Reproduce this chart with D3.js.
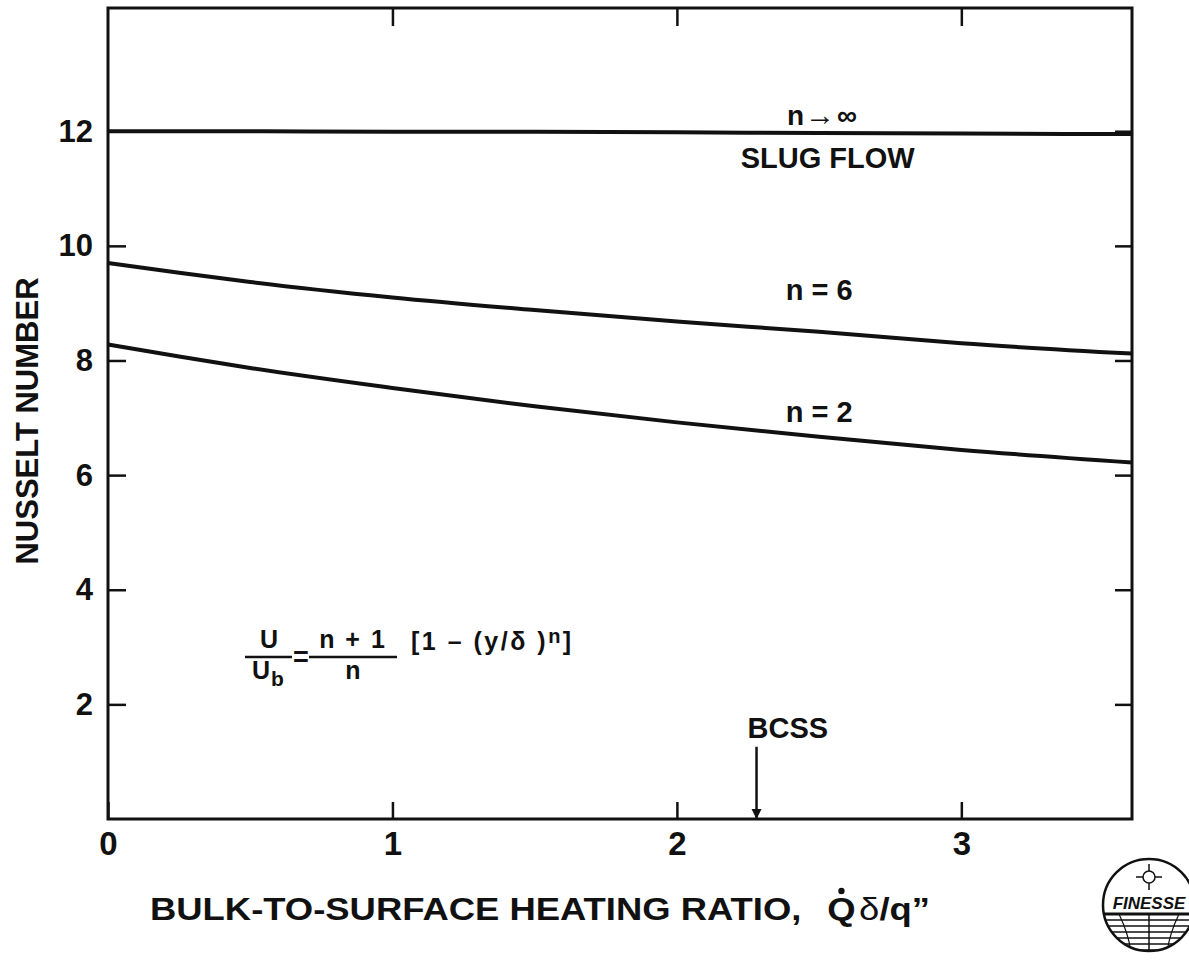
<!DOCTYPE html>
<html>
<head>
<meta charset="utf-8">
<script src="https://cdnjs.cloudflare.com/ajax/libs/d3/7.8.5/d3.min.js"></script>
<style>
body { margin: 0; background: #fff; }
svg text { font-family: "Liberation Sans", Arial, sans-serif; font-weight: bold; fill: #111; }
</style>
</head>
<body>
<div id="chart"></div>
<script>
"use strict";

// values
var ratio    = [0, 0.25, 0.5, 1, 1.5, 2, 2.5, 3, 3.6];
var nu_slug  = [12.0, 12.0, 12.0, 11.99, 11.99, 11.98, 11.97, 11.96, 11.95];
var nu_n6    = [9.7, 9.53, 9.37, 9.1, 8.88, 8.68, 8.5, 8.3, 8.12];
var nu_n2    = [8.28, 8.07, 7.87, 7.52, 7.2, 6.92, 6.67, 6.44, 6.22];

var x_ticks = [0, 1, 2, 3];
var y_ticks = [2, 4, 6, 8, 10, 12];

// text notes inside the plot, in data units
var note_text = ["SLUG FLOW", "n = 6", "n = 2", "BCSS"];
var note_x    = [2.53, 2.5, 2.5, 2.39];
var note_y    = [11.36, 9.06, 6.93, 1.41];

var bcss = 2.28;


function drawChart() {

	var svg = d3.select("#chart").append("svg")
		.attr("width", 1189).attr("height", 960);

	var x = d3.scaleLinear().domain([0, 3.6]).range([108, 1132]),
		y = d3.scaleLinear().domain([0, 14.15]).range([819, 8]);

	// frame
	svg.append("rect")
		.attr("x", x(0)).attr("y", y(14.15))
		.attr("width", x(3.6) - x(0)).attr("height", y(0) - y(14.15))
		.attr("fill", "none").attr("stroke", "#111").attr("stroke-width", 3);

	// ticks point inwards on all four sides, labels only left and bottom
	var fmt = d3.format("d");
	var gl = svg.append("g").attr("transform", "translate(" + x(0) + ",0)")
		.call(d3.axisLeft(y).tickValues(y_ticks).tickFormat(fmt).tickSizeInner(-18).tickSizeOuter(0).tickPadding(15));
	var gr = svg.append("g").attr("transform", "translate(" + x(3.6) + ",0)")
		.call(d3.axisRight(y).tickValues(y_ticks).tickSizeInner(-17).tickSizeOuter(0).tickFormat(""));
	var gb = svg.append("g").attr("transform", "translate(0," + y(0) + ")")
		.call(d3.axisBottom(x).tickValues(x_ticks).tickFormat(fmt).tickSizeInner(-17).tickSizeOuter(0).tickPadding(13));
	var gt = svg.append("g").attr("transform", "translate(0," + y(14.15) + ")")
		.call(d3.axisTop(x).tickValues(x_ticks.slice(1)).tickSizeInner(-18).tickSizeOuter(0).tickFormat(""));

	[gl, gr, gb, gt].forEach(function(g) {
		g.select(".domain").remove();
		g.selectAll("line").attr("stroke", "#111").attr("stroke-width", 2.5);
		g.selectAll("text").attr("font-size", 31).attr("font-family", null).attr("fill", "#111");
	});
	gb.selectAll("text").attr("font-size", 33);

	// curves
	var line = d3.line()
		.curve(d3.curveMonotoneX)
		.x(function(d) { return x(d[0]); })
		.y(function(d) { return y(d[1]); });

	[nu_slug, nu_n6, nu_n2].forEach(function(s) {
		svg.append("path")
			.attr("d", line(d3.zip(ratio, s)))
			.attr("fill", "none")
			.attr("stroke", "#111")
			.attr("stroke-width", 4);
	});

	// notes
	svg.selectAll(".note")
		.data(note_text)
		.enter().append("text")
		.attr("class", "note")
		.attr("x", function(d, i) { return x(note_x[i]); })
		.attr("y", function(d, i) { return y(note_y[i]); })
		.attr("text-anchor", "middle")
		.attr("font-size", 29)
		.text(function(d) { return d; });

	// n -> infinity, the arrow drawn a bit longer than the glyph
	var inf = svg.append("text")
		.attr("x", x(2.51)).attr("y", y(12.11))
		.attr("text-anchor", "middle")
		.attr("font-size", 28);
	inf.append("tspan").text("n");
	inf.append("tspan").attr("font-weight", "normal").attr("font-size", 30).attr("dx", 1).text("\u2192");
	inf.append("tspan").attr("dx", 2).text("\u221E");

	// BCSS arrow
	svg.append("defs").append("marker")
		.attr("id", "head").attr("viewBox", "0 0 10 10")
		.attr("refX", 9).attr("refY", 5)
		.attr("markerWidth", 4).attr("markerHeight", 5)
		.attr("orient", "auto")
		.append("path").attr("d", "M0,0 L10,5 L0,10 Z").attr("fill", "#111");

	svg.append("line")
		.attr("x1", x(bcss)).attr("x2", x(bcss))
		.attr("y1", y(1.26)).attr("y2", y(0) - 1)
		.attr("stroke", "#111").attr("stroke-width", 2.5)
		.attr("marker-end", "url(#head)");

	// y title
	svg.append("text")
		.attr("transform", "translate(38,421) rotate(-90)")
		.attr("text-anchor", "middle")
		.attr("font-size", 31)
		.text("NUSSELT NUMBER");

	// x title, the dot over Q is placed after layout
	var head = "BULK-TO-SURFACE HEATING RATIO,";
	var xt = svg.append("text")
		.attr("x", 540).attr("y", 920)
		.attr("text-anchor", "middle")
		.attr("font-size", 31)
		.attr("textLength", 780)
		.attr("lengthAdjust", "spacingAndGlyphs");
	xt.append("tspan").text(head);
	xt.append("tspan").attr("dx", 22).text("Q");
	xt.append("tspan").attr("font-weight", "normal").attr("dx", 3).text("\u03B4");
	xt.append("tspan").text("/q\u201D");

	var node = xt.node();
	var qi = head.length;
	var qa = node.getStartPositionOfChar(qi), qb = node.getEndPositionOfChar(qi);
	svg.append("circle")
		.attr("cx", (qa.x + qb.x) / 2).attr("cy", 920 - 29)
		.attr("r", 3.2).attr("fill", "#111");

	drawFormula(svg);
	drawLogo(svg);
}


function drawFormula(svg) {
	// U/Ub = (n+1)/n [1 - (y/d)^n], bar line sits at y = 0
	var f = svg.append("g").attr("transform", "translate(245,657)");
	var fs = 25;

	f.append("text").attr("x", 24).attr("y", -9).attr("text-anchor", "middle")
		.attr("font-size", fs).text("U");
	f.append("line").attr("x1", 0).attr("x2", 47).attr("y1", 0).attr("y2", 0)
		.attr("stroke", "#111").attr("stroke-width", 2.5);
	f.append("text").attr("x", 7).attr("y", 22).attr("font-size", fs).text("U");
	f.append("text").attr("x", 26).attr("y", 29).attr("font-size", 21).text("b");

	f.append("text").attr("x", 56).attr("y", 9).attr("text-anchor", "middle")
		.attr("font-size", 27).text("=");

	f.append("text").attr("x", 108).attr("y", -9).attr("text-anchor", "middle")
		.attr("font-size", fs).attr("letter-spacing", 2).text("n + 1");
	f.append("line").attr("x1", 64).attr("x2", 152).attr("y1", 0).attr("y2", 0)
		.attr("stroke", "#111").attr("stroke-width", 2.5);
	f.append("text").attr("x", 108).attr("y", 22).attr("text-anchor", "middle")
		.attr("font-size", fs).text("n");

	var br = f.append("text").attr("x", 166).attr("y", -7)
		.attr("font-size", fs).attr("letter-spacing", 2.5);
	br.append("tspan").text("[1 \u2013 (y/\u03B4 )");
	br.append("tspan").attr("dy", -7).attr("font-size", 20).text("n");
	br.append("tspan").attr("dy", 7).text("]");
}


function drawLogo(svg) {
	var g = svg.append("g").attr("transform", "translate(1149,905)");
	var r = 46;

	g.append("clipPath").attr("id", "logoclip")
		.append("circle").attr("r", r);

	g.append("circle").attr("r", r).attr("fill", "#fff")
		.attr("stroke", "#111").attr("stroke-width", 2.5);

	// sun
	g.append("circle").attr("cy", -28).attr("r", 6)
		.attr("fill", "none").attr("stroke", "#111").attr("stroke-width", 1.5);
	[[0, -1], [0, 1], [1, 0], [-1, 0]].forEach(function(d) {
		g.append("line")
			.attr("x1", d[0] * 6).attr("y1", -28 + d[1] * 6)
			.attr("x2", d[0] * 13).attr("y2", -28 + d[1] * 13)
			.attr("stroke", "#111").attr("stroke-width", 1.5);
	});

	g.append("text").attr("y", 4).attr("text-anchor", "middle")
		.attr("font-size", 17).attr("font-style", "italic").attr("font-weight", "normal")
		.text("FINESSE");

	// sea / grid part
	var sea = g.append("g").attr("clip-path", "url(#logoclip)");
	sea.append("line").attr("x1", -r).attr("x2", r).attr("y1", 9).attr("y2", 9)
		.attr("stroke", "#111").attr("stroke-width", 3);
	d3.range(15, 48, 6).forEach(function(yy) {
		sea.append("line").attr("x1", -r).attr("x2", r).attr("y1", yy).attr("y2", yy)
			.attr("stroke", "#111").attr("stroke-width", 1.5);
	});
	sea.append("line").attr("x1", 0).attr("x2", 0).attr("y1", 9).attr("y2", r)
		.attr("stroke", "#111").attr("stroke-width", 1.5);
	sea.append("path").attr("d", "M-30,9 Q-20,30 -18,48 M30,9 Q20,30 18,48")
		.attr("fill", "none").attr("stroke", "#111").attr("stroke-width", 1.2);
}


drawChart();
</script>
</body>
</html>
